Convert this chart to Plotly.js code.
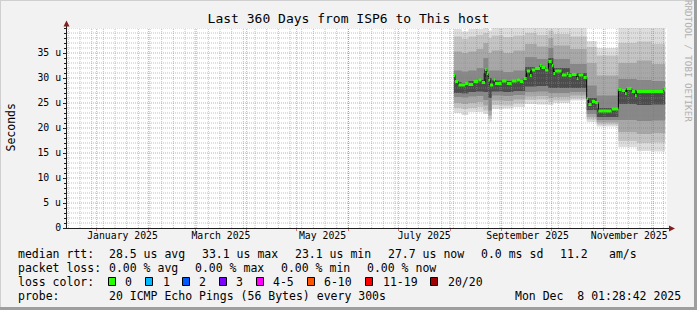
<!DOCTYPE html>
<html><head><meta charset="utf-8">
<script src="https://cdn.plot.ly/plotly-3.0.1.min.js"></script>
<style>html,body{margin:0;padding:0;background:#f2f2f2;overflow:hidden}#chart{width:697px;height:310px}</style>
</head><body><div id="chart"></div>
<script>
const FONT = 'DejaVu Sans Mono';
const xStart = '2024-12-14 04:20:00';
const xEnd = '2025-12-09 04:20:00';
const dataEnd = '2025-12-08 01:28:42';

// median RTT (microseconds), step series
const medianDates = ['2025-08-03 08:00','2025-08-04','2025-08-06','2025-08-10','2025-08-12','2025-08-15','2025-08-18','2025-08-20','2025-08-22','2025-08-23','2025-08-24','2025-08-25','2025-08-27','2025-08-28','2025-09-01','2025-09-04','2025-09-07','2025-09-10','2025-09-12','2025-09-14','2025-09-16','2025-09-18','2025-09-19','2025-09-21','2025-09-24','2025-09-25','2025-09-27','2025-09-29','2025-10-01','2025-10-02','2025-10-03','2025-10-07','2025-10-10','2025-10-11','2025-10-13','2025-10-16','2025-10-17','2025-10-20','2025-10-22','2025-10-23','2025-10-25','2025-10-27','2025-10-29','2025-11-06','2025-11-10','2025-11-12','2025-11-14','2025-11-15','2025-11-18','2025-11-20','2025-11-21','2025-12-07'];
const medianValues = [30.5,29.3,28.6,28.9,28.7,29.3,29.6,29.1,31.7,30.9,29.6,28.6,29.6,28.9,29.4,28.9,29.4,29.6,29.3,29.9,31.4,30.5,31.6,31.9,32.5,32.1,31.6,33.3,32.5,30.9,31.4,30.6,30.9,30.5,30.7,29.9,30.6,30.1,25.9,24.7,25.3,25.1,23.4,23.8,27.7,27.5,26.9,27.9,27.3,26.5,27.3,27.9];

// smoke (ping spread) envelopes, outer to inner
const smokeDates = ['2025-08-03 08:00','2025-08-08','2025-08-12','2025-08-17','2025-08-21','2025-08-24','2025-08-26','2025-09-02','2025-09-08','2025-09-15','2025-09-22','2025-09-29','2025-10-02','2025-10-12','2025-10-22','2025-10-28','2025-11-10','2025-11-21','2025-11-30'];
const smokeMax = [39.8,39.3,39.8,39.8,40.0,39.5,40.0,40.0,40.0,40.0,40.0,40.0,40.0,40.0,37.4,36.0,40.0,40.0,40.0];
const smokeHi2 = [38.3,37.8,38.3,38.6,39.0,38.0,38.5,38.2,38.5,39.0,38.6,39.5,38.8,38.3,36.2,34.5,37.0,37.3,36.8];
const smokeHi3 = [35.3,35.0,35.3,35.8,37.0,35.0,35.5,35.0,35.5,36.8,36.3,38.0,36.5,35.8,33.0,30.5,33.0,33.5,32.8];
const smokeHi4 = [31.5,31.3,31.5,32.0,34.0,31.5,31.5,31.2,31.5,34.2,33.8,36.0,33.8,32.8,28.5,26.5,29.8,29.6,29.4];
const smokeHi5 = [29.2,29.0,29.4,29.6,31.0,30.0,29.5,29.4,29.6,32.2,32.0,34.0,32.0,31.0,26.0,24.0,27.6,27.4,27.3];
const smokeLo5 = [27.0,26.9,27.2,27.3,27.2,26.0,27.3,27.2,27.4,28.3,28.4,28.0,28.0,28.0,23.6,22.2,24.8,24.6,24.7];
const smokeLo4 = [26.2,26.1,26.3,26.4,25.6,23.5,26.5,26.4,26.6,27.2,27.3,27.0,27.0,27.2,22.8,21.6,21.6,21.4,21.5];
const smokeLo3 = [25.0,24.8,25.0,25.2,24.5,22.5,25.5,25.4,25.7,26.3,26.4,26.0,26.2,26.5,22.2,21.1,19.2,18.8,19.0];
const smokeLo2 = [24.0,23.8,24.0,24.2,23.5,21.8,24.6,24.5,24.9,25.6,25.7,25.2,25.5,25.9,21.7,20.7,17.4,17.0,17.1];
const smokeMin = [23.0,22.6,23.2,23.2,22.8,21.3,23.8,23.9,24.2,24.8,24.7,24.6,25.0,25.5,21.2,20.3,16.2,15.4,15.3];

// axes
const monthStarts = ['2025-01-01','2025-02-01','2025-03-01','2025-04-01','2025-05-01','2025-06-01','2025-07-01','2025-08-01','2025-09-01','2025-10-01','2025-11-01','2025-12-01'];
const monthLabelDates = ['2025-01-16 12:00','2025-03-16 12:00','2025-05-16 12:00','2025-07-16 12:00','2025-09-16 12:00','2025-11-16 12:00'];
const monthLabels = ['January 2025','March 2025','May 2025','July 2025','September 2025','November 2025'];
const yTickVals = [0,5,10,15,20,25,30,35];
const yTickText = ['0','5 u','10 u','15 u','20 u','25 u','30 u','35 u'];
const firstSunday = '2024-12-15';

// legend texts
const rttLabels = ['28.5 us avg','33.1 us max','23.1 us min','27.7 us now','0.0 ms sd','11.2','am/s'];
const lossLabels = ['0.00 % avg','0.00 % max','0.00 % min','0.00 % now'];
const lossColorNames = ['0','1','2','3','4-5','6-10','11-19','20/20'];
const lossColors = ['#26ff00','#00b8ff','#0059ff','#7e00ff','#ff00ff','#ff5500','#ff0000','#a10000'];
const probeText = '20 ICMP Echo Pings (56 Bytes) every 300s';
const stampText = 'Mon Dec\u00a0\u00a08 01:28:42 2025';

// ---- layout helpers (pixel -> paper) ----
const PL = 67, PT = 28, PW = 600, PH = 200;
const px = v => (v - PL) / PW;
const py = v => (PT + PH - v) / PH;

const traces = [];
const sx = smokeDates.concat([dataEnd]);
const ext = a => a.concat([a[a.length - 1]]);
const bands = [
  [smokeMin, smokeMax, '#dddddd'],
  [smokeLo2, smokeHi2, '#c4c4c4'],
  [smokeLo3, smokeHi3, '#a8a8a8'],
  [smokeLo4, smokeHi4, '#878787'],
  [smokeLo5, smokeHi5, '#4c4c4c']
];
bands.forEach(([lo, hi, c]) => {
  traces.push({x: sx, y: ext(lo), mode: 'lines', line: {width: 0, shape: 'hv'}, hoverinfo: 'skip'});
  traces.push({x: sx, y: ext(hi), mode: 'lines', line: {width: 0, shape: 'hv'}, fill: 'tonexty', fillcolor: c, hoverinfo: 'skip'});
});
const mx = medianDates.concat([dataEnd]);
traces.push({x: mx, y: ext(medianValues), mode: 'lines', line: {color: '#000000', width: 1, shape: 'hv'}, hoverinfo: 'skip'});
const gx = [], gy = [];
medianDates.forEach((d, i) => { gx.push(d, mx[i + 1], null); gy.push(medianValues[i], medianValues[i], null); });
traces.push({x: gx, y: gy, mode: 'lines', line: {color: lossColors[0], width: 3}, connectgaps: false, hoverinfo: 'skip'});
traces.push({x: [xStart], y: [0], xaxis: 'x2', mode: 'markers', marker: {opacity: 0}, hoverinfo: 'skip'});

// grid shapes (drawn above the smoke like rrdtool)
const shapes = [];
const minorCol = 'rgba(143,143,143,0.55)', majorCol = 'rgba(222,79,79,0.55)';
let t = new Date(firstSunday + 'T00:00:00Z').getTime();
const tEnd = new Date('2025-12-09T00:00:00Z').getTime();
for (; t < tEnd; t += 7 * 86400000) {
  const d = new Date(t).toISOString().slice(0, 10);
  shapes.push({type: 'line', layer: 'above', xref: 'x', yref: 'paper', x0: d, x1: d, y0: 0, y1: 1, line: {color: minorCol, width: 1, dash: '1px,1px'}});
}
for (let v = 1; v <= 40; v++) {
  if (v % 5 === 0 && v < 40) continue;
  shapes.push({type: 'line', layer: 'above', xref: 'paper', yref: 'y', x0: 0, x1: 1, y0: v, y1: v, line: {color: minorCol, width: 1, dash: '1px,1px'}});
}
monthStarts.forEach(d => shapes.push({type: 'line', layer: 'above', xref: 'x', yref: 'paper', x0: d, x1: d, y0: 0, y1: 1, line: {color: majorCol, width: 1, dash: '1px,1px'}}));
yTickVals.slice(1).forEach(v => shapes.push({type: 'line', layer: 'above', xref: 'paper', yref: 'y', x0: 0, x1: 1, y0: v, y1: v, line: {color: majorCol, width: 1, dash: '1px,1px'}}));

// axes lines + arrows
const axisCol = '#1f1f1f', arrowCol = '#801f1f';
shapes.push({type: 'line', layer: 'above', xref: 'paper', yref: 'paper', x0: px(66.5), x1: px(66.5), y0: py(228), y1: py(24), line: {color: axisCol, width: 1}});
shapes.push({type: 'line', layer: 'above', xref: 'paper', yref: 'paper', x0: px(63), x1: px(671), y0: py(228.5), y1: py(228.5), line: {color: axisCol, width: 1}});
shapes.push({type: 'path', layer: 'above', xref: 'paper', yref: 'paper', path: `M ${px(63.5)} ${py(26.5)} L ${px(69.5)} ${py(26.5)} L ${px(66.5)} ${py(20.5)} Z`, fillcolor: arrowCol, line: {width: 0}});
shapes.push({type: 'path', layer: 'above', xref: 'paper', yref: 'paper', path: `M ${px(669)} ${py(225.5)} L ${px(669)} ${py(231.5)} L ${px(675)} ${py(228.5)} Z`, fillcolor: arrowCol, line: {width: 0}});

// frame (3D border)
shapes.push({type: 'line', xref: 'paper', yref: 'paper', x0: px(0), x1: px(697), y0: py(0.5), y1: py(0.5), line: {color: '#cfcfcf', width: 1}});
shapes.push({type: 'line', xref: 'paper', yref: 'paper', x0: px(0.5), x1: px(0.5), y0: py(0), y1: py(310), line: {color: '#cfcfcf', width: 1}});
shapes.push({type: 'line', xref: 'paper', yref: 'paper', x0: px(0), x1: px(697), y0: py(308.5), y1: py(308.5), line: {color: '#9e9e9e', width: 3}});
shapes.push({type: 'line', xref: 'paper', yref: 'paper', x0: px(695.5), x1: px(695.5), y0: py(0), y1: py(310), line: {color: '#9e9e9e', width: 3}});

// legend boxes
const boxX = [108.5, 145.5, 182.5, 219.5, 256.5, 307.5, 365.5, 430.5];
const boxLabelX = [123.3, 160.7, 197.3, 234.3, 271, 322.3, 380.7, 445.7];
lossColors.forEach((c, i) => shapes.push({type: 'rect', xref: 'paper', yref: 'paper', x0: px(boxX[i]), x1: px(boxX[i] + 7), y0: py(277.5), y1: py(285.5), fillcolor: c, line: {color: '#000', width: 1}}));

const ann = [];
const lf = {family: FONT, size: 11.5, color: '#000'};
const addText = (text, x, y, font) => ann.push({text, xref: 'paper', yref: 'paper', x: px(x), y: py(y), xanchor: 'left', yanchor: 'middle', showarrow: false, font: font || lf});
addText('median rtt:', 16, 254);
[107.3, 200, 293.3, 386, 479.3, 558.3, 606.7].forEach((x, i) => addText(rttLabels[i], x, 254));
addText('packet loss:', 16, 268);
[107.3, 193.3, 279.3, 365].forEach((x, i) => addText(lossLabels[i], x, 268));
addText('loss color:', 16, 282);
lossColorNames.forEach((n, i) => addText(n, boxLabelX[i], 282));
addText('probe:', 16, 296);
addText(probeText, 107.3, 296);
addText(stampText, 512.7, 296);
ann.push({text: 'Seconds', textangle: -90, xref: 'paper', yref: 'paper', x: px(10), y: py(127.5), xanchor: 'center', yanchor: 'middle', showarrow: false, font: lf});
ann.push({text: 'RRDTOOL / TOBI OETIKER', textangle: 90, xref: 'paper', yref: 'paper', x: px(689), y: py(61), xanchor: 'center', yanchor: 'middle', showarrow: false, borderpad: 0, font: {family: FONT, size: 9.2, color: '#b0b0b0'}});

const layout = {
  width: 697, height: 310,
  paper_bgcolor: '#f2f2f2', plot_bgcolor: '#ffffff',
  margin: {l: PL, r: 697 - PL - PW, t: PT, b: 310 - PT - PH, pad: 0},
  showlegend: false,
  font: {family: FONT, color: '#000'},
  title: {text: 'Last 360 Days from ISP6 to This host', font: {family: FONT, size: 13, color: '#000'}, xref: 'container', x: 0.5, xanchor: 'center', yref: 'container', y: 1 - 18.5 / 310, yanchor: 'middle'},
  xaxis: {type: 'date', range: [xStart, xEnd], showgrid: false, zeroline: false, showline: false, tickvals: monthStarts, ticktext: monthStarts.map(() => ''), ticks: 'outside', ticklen: 2, tickcolor: 'rgba(222,79,79,0.8)', fixedrange: true},
  xaxis2: {type: 'date', overlaying: 'x', anchor: 'y', side: 'bottom', range: [xStart, xEnd], tickvals: monthLabelDates, ticktext: monthLabels, ticks: '', showgrid: false, zeroline: false, showline: false, tickfont: {family: FONT, size: 9.8, color: '#000'}, fixedrange: true},
  yaxis: {range: [0, 40], tickvals: yTickVals, ticktext: yTickText, ticks: 'outside', ticklen: 3, tickcolor: axisCol, showgrid: false, zeroline: false, showline: false, tickfont: {family: FONT, size: 9.8, color: '#000'}, fixedrange: true,
    minor: {ticks: 'outside', ticklen: 2, dtick: 1, tick0: 0, tickcolor: axisCol, showgrid: false}},
  shapes, annotations: ann
};
Plotly.newPlot('chart', traces, layout, {staticPlot: true, displayModeBar: false});
</script></body></html>
